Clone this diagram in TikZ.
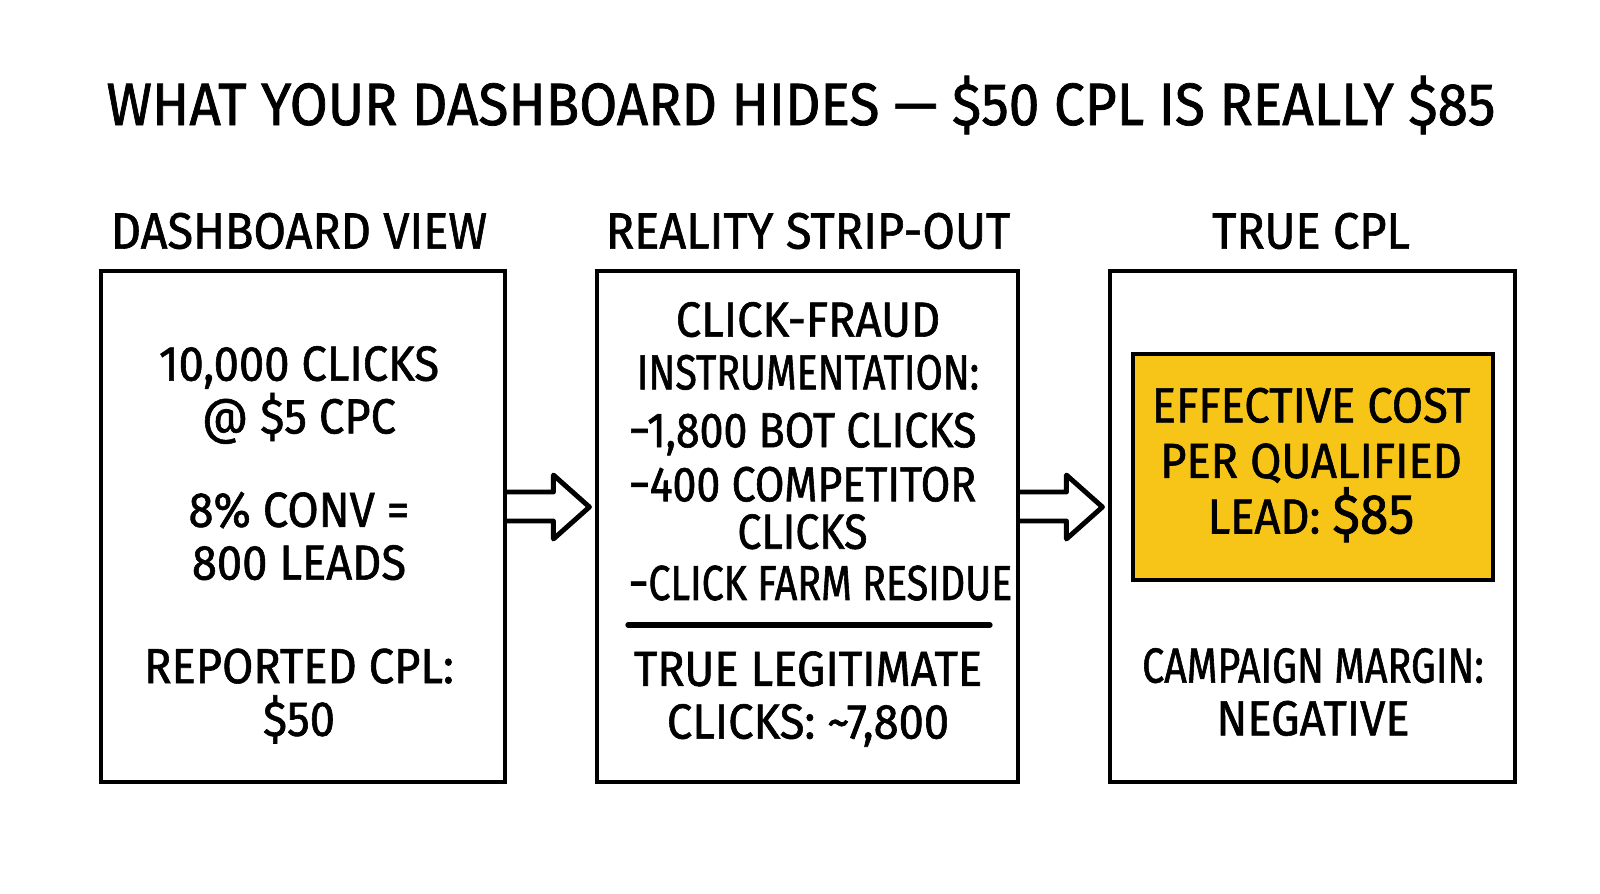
\documentclass[tikz,border=0pt]{standalone}
\usepackage{fontspec}
\setmainfont{Fira Sans}[FakeStretch=0.92,FakeBold=1.2]
\newfontfamily\narrowfont{Fira Sans}[FakeStretch=0.8,FakeBold=1.2]
\newfontfamily\listfont{Fira Sans}[FakeStretch=0.87,FakeBold=1.2]
\usetikzlibrary{calc}
\definecolor{gold}{RGB}{247,197,24}

\begin{document}
\begin{tikzpicture}[x=0.01cm,y=-0.01cm,
    panel/.style={draw,line width=1.3pt,minimum height=5.11cm,inner sep=0pt},
    hdr/.style={font=\fontsize{14.5}{15}\selectfont},
    txt/.style={font=\fontsize{14}{15}\selectfont,align=center,inner sep=0pt},
    blockarrow/.style={line width=1.4pt,line join=round,line cap=round}]
  \useasboundingbox (0,0) rectangle (1600,893);

  % title and headers
  \node[font=\fontsize{17}{17}\selectfont] (title) at (801,105) {WHAT YOUR DASHBOARD HIDES — \$50 CPL IS REALLY \$85};
  \node[hdr] (hdash) at (299,231) {DASHBOARD VIEW};
  \node[hdr] (hreal) at (808,231) {REALITY STRIP-OUT};
  \node[hdr] (htrue) at (1311,231) {TRUE CPL};

  % the three panels
  \node[panel,minimum width=4.04cm] (dash) at (303,526.5) {};
  \node[panel,minimum width=4.21cm] (real) at (807.5,526.5) {};
  \node[panel,minimum width=4.05cm] (true) at (1312.5,526.5) {};

  % dashboard view
  \node[txt] (clicks) at (299,395) {10,000 CLICKS\\@ \$5 CPC};
  \node[txt] (conv) at (299,536) {8\% CONV =\\800 LEADS};
  \node[txt] (rep) at (299,696) {REPORTED CPL:\\\$50};

  % reality strip-out
  \node[txt] (fraud) at (808,346) {CLICK-FRAUD\\{\narrowfont INSTRUMENTATION:}};
  \node[txt,anchor=west] (bots) at (628,434) {\listfont −1,800 BOT CLICKS};
  \node[txt,anchor=west,font=\fontsize{14}{13.5}\selectfont\listfont] (comp) at (628,508) {−400 COMPETITOR\\CLICKS};
  \node[txt,anchor=west] (farm) at (628,583) {\narrowfont −CLICK FARM RESIDUE};
  \coordinate (rulea) at (628,625);
  \coordinate (ruleb) at (990,625);
  \draw[line width=1.5pt,line cap=round] (rulea) -- (ruleb);
  \node[txt] (legit) at (808,699) {TRUE LEGITIMATE\\CLICKS: \textasciitilde7,800};

  % true cpl
  \node[draw,line width=1.3pt,fill=gold,minimum width=3.6cm,minimum height=2.26cm] (eff) at (1313,467) {};
  \node[txt,font=\fontsize{14}{15.8}\selectfont] (efftxt) at (1311,465) {EFFECTIVE COST\\PER QUALIFIED\\LEAD: {\fontsize{16}{16}\selectfont\$85}};
  \node[txt] (margin) at (1313,692) {{\narrowfont CAMPAIGN MARGIN:}\\NEGATIVE};

  % open block arrows between panels
  \draw[blockarrow] ($(dash.east)+(0,-34.5)$) -- ++(46,0) -- ++(0,-17) -- ++(36,32)
    -- ++(-36,32) -- ++(0,-18) -- ++(-46,0);
  \draw[blockarrow] ($(real.east)+(0,-34.5)$) -- ++(46,0) -- ++(0,-17) -- ++(36,32)
    -- ++(-36,32) -- ++(0,-18) -- ++(-46,0);
\end{tikzpicture}
\end{document}
